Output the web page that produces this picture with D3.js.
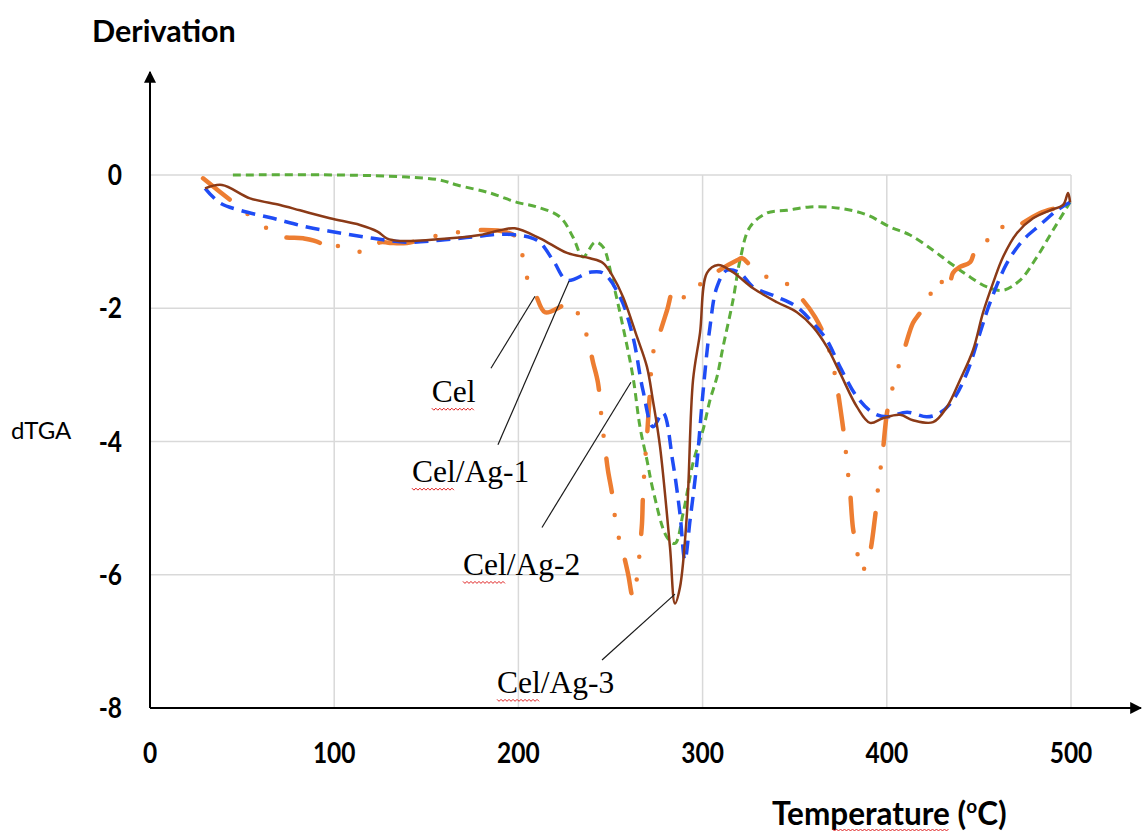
<!DOCTYPE html>
<html>
<head>
<meta charset="utf-8">
<script src="https://cdn.jsdelivr.net/npm/d3@7/dist/d3.min.js"></script>
<style>
body { margin: 0; background: #fff; }
</style>
</head>
<body>
<svg id="chart" width="1142" height="834"></svg>
<script>
var xTicks = [0, 100, 200, 300, 400, 500];
var yTicks = [0, -2, -4, -6, -8];

// [temperature, dTGA]
var cel = [[28.8,-0.05],[45.1,-0.41],[55.9,-0.65],[65.1,-0.83],[72.2,-0.93],[83.1,-0.95],[92.3,-1.02],[96.1,-1.14],[103.1,-1.06],[110.2,-1.14],[119.4,-1.14],[124.9,-1.01],[130.3,-1.02],[139.5,-1.02],[157.4,-0.90],[166.7,-0.86],[175.4,-0.83],[193.8,-0.86],[200.9,-0.98],[202.5,-1.28],[205.2,-1.58],[209,-1.77],[214.4,-2.06],[222.6,-1.98],[226.9,-1.91],[233.4,-2.13],[237.8,-2.48],[240.5,-2.81],[243.2,-3.12],[245.4,-3.72],[247,-4.08],[248.6,-4.43],[250.8,-4.77],[253.5,-5.33],[256.8,-5.66],[259.5,-5.98],[262.2,-6.34],[264.9,-5.93],[266,-5.59],[267.1,-5.23],[267.6,-4.83],[268.7,-4.32],[269.8,-3.93],[271.4,-3.27],[273.1,-2.67],[276.9,-2.36],[280.7,-2.03],[284.5,-1.70],[287.7,-1.79],[291.5,-1.85],[294.2,-1.77],[297,-1.68],[308,-1.45],[318.7,-1.28],[321.4,-1.25],[327.4,-1.40],[335,-1.53],[342,-1.55],[349.1,-1.73],[354.5,-1.88],[361,-2.13],[366.4,-2.43],[370.2,-2.78],[373,-3.18],[375.7,-3.68],[377.3,-4.02],[378.4,-4.35],[380,-4.73],[381.6,-5.29],[383.8,-5.63],[386,-5.96],[389.8,-5.78],[393.6,-5.14],[394.7,-4.83],[396.3,-4.47],[397.9,-4.13],[400.1,-3.57],[402.8,-3.23],[406.1,-2.90],[409.9,-2.58],[414.2,-2.22],[418,-2.07],[423.5,-1.80],[427.8,-1.55],[433.2,-1.73],[435.9,-1.47],[439.7,-1.38],[445.2,-1.31],[449.5,-1.02],[458.7,-0.95],[461.5,-0.78],[468.5,-0.83],[473.9,-0.72],[483.2,-0.57],[491.3,-0.50],[499.5,-0.45]];

var celAg1 = [[29.9,-0.2],[38,-0.42],[48.9,-0.53],[66.8,-0.65],[85.2,-0.78],[103.1,-0.87],[121.1,-0.95],[139.5,-1.01],[157.4,-0.98],[175.4,-0.93],[193.8,-0.89],[210.1,-0.98],[218.8,-1.28],[226.4,-1.58],[238.9,-1.46],[245.9,-1.47],[255.2,-1.83],[262.2,-2.43],[267.6,-3.23],[273.1,-3.78],[278.5,-3.57],[283.9,-4.32],[287.7,-5.08],[290.4,-5.78],[293.2,-5.18],[296.9,-4.32],[300.2,-3.27],[304,-2.28],[307.8,-1.68],[313.2,-1.43],[320.3,-1.47],[327.4,-1.68],[340.4,-1.83],[351.2,-1.98],[359.9,-2.22],[367.5,-2.48],[374.6,-2.88],[383.8,-3.33],[392.5,-3.57],[400.1,-3.63],[411,-3.56],[421.8,-3.63],[428.9,-3.57],[435.9,-3.38],[443.5,-2.97],[450.6,-2.37],[456,-1.92],[465.3,-1.32],[473.9,-0.98],[483.2,-0.75],[492.4,-0.53],[499.5,-0.41]];

var celAg2 = [[45,0],[103,0],[139.5,-0.03],[157.4,-0.075],[166.7,-0.15],[184.6,-0.27],[199.2,-0.41],[210.1,-0.48],[222.6,-0.63],[229.6,-0.93],[235.1,-1.23],[241.6,-1.01],[245.9,-1.08],[251.4,-1.62],[256.8,-2.28],[262.2,-3.03],[266,-3.78],[269.8,-4.28],[273.1,-4.73],[280.7,-5.44],[285,-5.53],[289.4,-5.08],[294.8,-4.32],[300.2,-3.83],[304,-3.38],[307.8,-3.03],[311.1,-2.58],[316.5,-1.88],[320.3,-1.28],[325.7,-0.78],[335,-0.57],[345.8,-0.53],[358.3,-0.48],[374.6,-0.50],[389.3,-0.60],[401.7,-0.78],[412.6,-0.90],[425.1,-1.13],[434.3,-1.32],[443.5,-1.50],[454.4,-1.68],[463.1,-1.73],[472.3,-1.58],[481.5,-1.23],[490.2,-0.83],[499.5,-0.41]];

var celAg3 = [[29.9,-0.2],[39.1,-0.15],[54.3,-0.35],[70.6,-0.45],[81.4,-0.53],[97.7,-0.65],[114,-0.75],[123.5,-0.85],[128.5,-0.95],[135.7,-0.99],[162.9,-0.95],[179.2,-0.9],[190,-0.83],[198,-0.8],[211.7,-0.95],[226.4,-1.17],[238.9,-1.25],[245.9,-1.32],[251.4,-1.53],[256.8,-1.83],[264.4,-2.43],[269.8,-2.88],[273,-3.38],[276.9,-4.08],[282.3,-5.59],[285,-6.43],[287.7,-6.19],[291.5,-5.08],[294.8,-3.08],[298.6,-2.37],[302.4,-1.47],[308.4,-1.35],[316.5,-1.46],[327.4,-1.70],[340.4,-1.91],[351.2,-2.06],[359.9,-2.28],[367.5,-2.58],[374.6,-2.97],[383.8,-3.48],[390.9,-3.72],[397.9,-3.65],[407.2,-3.60],[414.2,-3.68],[425.1,-3.71],[432.7,-3.48],[439.7,-3.08],[446.8,-2.63],[452.2,-2.07],[457.7,-1.62],[463.1,-1.23],[470.7,-0.87],[479.4,-0.65],[488.6,-0.53],[495.7,-0.45],[498.4,-0.27],[499.5,-0.41]];

var labelNames = ["Cel", "Cel/Ag-1", "Cel/Ag-2", "Cel/Ag-3"];
// text anchor (left, baseline) and leader line ends, in data units
var labelAt = [[153, -3.41], [142.2, -4.61], [169.9, -6.01], [188.4, -7.78]];
var leaderFrom = [[185.1, -2.90], [188.9, -4.05], [212.8, -5.29], [245.4, -7.28]];
var leaderTo = [[209, -1.82], [227.5, -1.59], [261.1, -3.11], [285, -6.29]];

var svg = d3.select("#chart");

var x = d3.scaleLinear().domain([0, 500]).range([150, 1071]);
var y = d3.scaleLinear().domain([-8, 0]).range([708, 175]);

// grid
svg.append("g").selectAll("line").data(xTicks.slice(1)).enter().append("line")
    .attr("x1", d => x(d)).attr("x2", d => x(d))
    .attr("y1", y(0)).attr("y2", y(-8))
    .style("stroke", "#d9d9d9").style("stroke-width", "1.5px");
svg.append("g").selectAll("line").data(yTicks.slice(0, -1)).enter().append("line")
    .attr("x1", x(0)).attr("x2", x(500))
    .attr("y1", d => y(d)).attr("y2", d => y(d))
    .style("stroke", "#d9d9d9").style("stroke-width", "1.5px");

// axes with arrows
var defs = svg.append("defs");
defs.append("marker").attr("id", "arrow")
    .attr("viewBox", "0 0 10 10").attr("refX", 9).attr("refY", 5)
    .attr("markerWidth", 12).attr("markerHeight", 12)
    .attr("markerUnits", "userSpaceOnUse").attr("orient", "auto")
    .append("path").attr("d", "M0,0 L10,5 L0,10 z").style("fill", "#000");

svg.append("line")
    .attr("x1", x(0)).attr("y1", y(-8)).attr("x2", x(0)).attr("y2", 72)
    .style("stroke", "#000").style("stroke-width", "2px")
    .attr("marker-end", "url(#arrow)");
svg.append("line")
    .attr("x1", x(0)).attr("y1", y(-8)).attr("x2", 1141).attr("y2", y(-8))
    .style("stroke", "#000").style("stroke-width", "2px")
    .attr("marker-end", "url(#arrow)");

// tick labels (slightly tall, like the stretched original)
svg.append("g").selectAll("text").data(xTicks).enter().append("text")
    .attr("transform", d => "translate(" + x(d) + ",763) scale(1,1.15)")
    .attr("text-anchor", "middle")
    .style("font-family", "Lato").style("font-weight", "bold").style("font-size", "24.5px")
    .text(d => d);
svg.append("g").selectAll("text").data(yTicks).enter().append("text")
    .attr("transform", d => "translate(122," + (y(d) + 10) + ") scale(1,1.15)")
    .attr("text-anchor", "end")
    .style("font-family", "Lato").style("font-weight", "bold").style("font-size", "24.5px")
    .text(d => d);

// titles
svg.append("text").attr("x", 92).attr("y", 42)
    .style("font-family", "Lato").style("font-weight", "bold").style("font-size", "30.5px")
    .text("Derivation");
var xt = svg.append("text").attr("x", 772).attr("y", 825)
    .style("font-family", "Lato").style("font-weight", "bold").style("font-size", "31.5px");
xt.append("tspan").text("Temperature (");
xt.append("tspan").attr("dy", -12).style("font-size", "19px").text("o");
xt.append("tspan").attr("dy", 12).text("C)");
svg.append("text").attr("x", 11).attr("y", 439)
    .style("font-family", "Lato").style("font-size", "24px")
    .text("dTGA");

// series
var line = d3.line().x(d => x(d[0])).y(d => y(d[1])).curve(d3.curveCatmullRom.alpha(0.5));

svg.append("path").datum(celAg2).attr("d", line)
    .style("fill", "none").style("stroke", "#5cad3c").style("stroke-width", "3px")
    .style("stroke-dasharray", "8 5");
svg.append("path").datum(cel).attr("d", line)
    .style("fill", "none").style("stroke", "#ed7d31").style("stroke-width", "4.5px")
    .style("stroke-linecap", "round")
    .style("stroke-dasharray", "34 23 0 23 0 23");
svg.append("path").datum(celAg1).attr("d", line)
    .style("fill", "none").style("stroke", "#1f4cf5").style("stroke-width", "3.5px")
    .style("stroke-dasharray", "14 8");
svg.append("path").datum(celAg3).attr("d", line)
    .style("fill", "none").style("stroke", "#8b3a17").style("stroke-width", "2.5px");

// labels with leader lines
var ann = svg.append("g");
labelNames.forEach(function(name, i) {
    ann.append("line")
        .attr("x1", x(leaderFrom[i][0])).attr("y1", y(leaderFrom[i][1]))
        .attr("x2", x(leaderTo[i][0])).attr("y2", y(leaderTo[i][1]))
        .style("stroke", "#1a1a1a").style("stroke-width", "1.2px");
    ann.append("text")
        .attr("x", x(labelAt[i][0])).attr("y", y(labelAt[i][1]))
        .style("font-family", "Liberation Serif").style("font-size", "31.5px")
        .text(name);
    // spell-check squiggle under "Cel"
    var probe = ann.append("text").style("font-family", "Liberation Serif").style("font-size", "31.5px").text("Cel");
    var wd = probe.node().getComputedTextLength();
    probe.remove();
    var x0 = x(labelAt[i][0]), yy = y(labelAt[i][1]) + 6, p = "M" + x0 + "," + yy;
    for (var k = 0; x0 + (k + 1) * 2 <= x0 + wd; k++) {
        p += " L" + (x0 + (k + 1) * 2) + "," + (yy + (k % 2 ? 0 : 2));
    }
    ann.append("path").attr("d", p).style("fill", "none").style("stroke", "#e02020").style("stroke-width", "1px");
});

// squiggle under "Temperature"
var probeT = svg.append("text").style("font-family", "Lato").style("font-weight", "bold").style("font-size", "31.5px").text("Temperature");
var wT = probeT.node().getComputedTextLength();
probeT.remove();
var tx0 = 772 + wT * 0.34, ty = 829, tp = "M" + tx0 + "," + ty;
for (var k = 0; tx0 + (k + 1) * 2 <= 772 + wT; k++) {
    tp += " L" + (tx0 + (k + 1) * 2) + "," + (ty + (k % 2 ? 0 : 2));
}
svg.append("path").attr("d", tp).style("fill", "none").style("stroke", "#e02020").style("stroke-width", "1px");
</script>
</body>
</html>
